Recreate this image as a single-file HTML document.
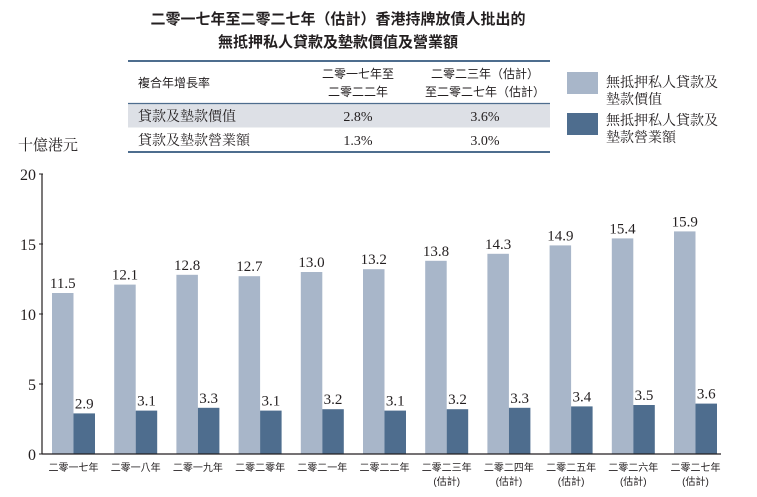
<!DOCTYPE html>
<html><head><meta charset="utf-8"><style>
body{margin:0;background:#fff;}
svg text{font-family:"Liberation Serif","Noto Serif CJK SC","Noto Sans CJK TC",serif;fill:#231f20;}
.s{font-family:"Liberation Sans","Noto Sans CJK TC",sans-serif !important;}
</style></head><body>
<svg id="c" width="757" height="492" viewBox="0 0 757 492">
<text class="s" x="338" y="24" font-size="15" font-weight="bold" text-anchor="middle">二零一七年至二零二七年（估計）香港持牌放債人批出的</text>
<text class="s" x="338" y="47" font-size="15" font-weight="bold" text-anchor="middle">無抵押私人貸款及墊款價值及營業額</text>
<g>
<rect x="128" y="104" width="422" height="24" fill="#dde0e6"/>
<line x1="128" y1="61" x2="550" y2="61" stroke="#4e6d8e" stroke-width="2"/>
<line x1="128" y1="103.5" x2="550" y2="103.5" stroke="#4e6d8e" stroke-width="1.2"/>
<line x1="128" y1="128" x2="550" y2="128" stroke="#fff" stroke-width="1"/>
<line x1="128" y1="152" x2="550" y2="152" stroke="#4e6d8e" stroke-width="2"/>
<text class="s" x="138" y="87" font-size="12">複合年增長率</text>
<text class="s" x="358" y="78" font-size="12" text-anchor="middle">二零一七年至</text>
<text class="s" x="358" y="96" font-size="12" text-anchor="middle">二零二二年</text>
<text class="s" x="485" y="78" font-size="12" text-anchor="middle">二零二三年（估計）</text>
<text class="s" x="485" y="96" font-size="12" text-anchor="middle">至二零二七年（估計）</text>
<text x="138" y="121" font-size="14">貸款及墊款價值</text>
<text x="358" y="121" font-size="14" text-anchor="middle">2.8%</text>
<text x="485" y="121" font-size="14" text-anchor="middle">3.6%</text>
<text x="138" y="145" font-size="14">貸款及墊款營業額</text>
<text x="358" y="145" font-size="14" text-anchor="middle">1.3%</text>
<text x="485" y="145" font-size="14" text-anchor="middle">3.0%</text>
</g>
<g>
<rect x="567" y="72" width="31" height="22" fill="#a8b6c9"/>
<text x="606" y="87" font-size="14">無抵押私人貸款及</text>
<text x="606" y="104" font-size="14">墊款價值</text>
<rect x="567" y="113" width="31" height="22" fill="#4e6d8e"/>
<text x="606" y="125" font-size="14">無抵押私人貸款及</text>
<text x="606" y="142" font-size="14">墊款營業額</text>
</g>
<text x="18" y="150" font-size="15">十億港元</text>
<g id="plot"></g>
</svg>
<script>
const categories=["二零一七年","二零一八年","二零一九年","二零二零年","二零二一年","二零二二年","二零二三年","二零二四年","二零二五年","二零二六年","二零二七年"];
const estimated=[false,false,false,false,false,false,true,true,true,true,true];
const loanValue=[11.5,12.1,12.8,12.7,13.0,13.2,13.8,14.3,14.9,15.4,15.9];
const loanTurnover=[2.9,3.1,3.3,3.1,3.2,3.1,3.2,3.3,3.4,3.5,3.6];
const yTicks=[0,5,10,15,20];
const NS="http://www.w3.org/2000/svg";
const g=document.getElementById('plot');
const y0=454,yTop=174,yMax=20;
function yS(v){return y0-(v/yMax)*(y0-yTop);}
function xS(i){return 52+i*62.2;}
const bw=21.5;
function mk(t,a){const e=document.createElementNS(NS,t);for(const k in a)e.setAttribute(k,a[k]);g.appendChild(e);return e;}
yTicks.forEach(v=>{
 const t=mk('text',{x:36,y:yS(v)+6,'font-size':16,'text-anchor':'end'});t.textContent=v;
 
 
 const l=mk('line',{x1:39,x2:43,y1:yS(v),y2:yS(v),stroke:'#231f20','stroke-width':1});
 
 
});
categories.forEach((c,i)=>{
 const x=xS(i);
 const r1=mk('rect',{x:x,y:yS(loanValue[i]),width:bw,height:y0-yS(loanValue[i]),fill:'#a8b6c9'});
 
 
 const r2=mk('rect',{x:x+bw,y:yS(loanTurnover[i]),width:bw,height:y0-yS(loanTurnover[i]),fill:'#4e6d8e'});
 
 
 const t1=mk('text',{x:x+bw/2,y:yS(loanValue[i])-5,'font-size':15,'text-anchor':'middle'});t1.textContent=loanValue[i].toFixed(1);
 
 
 const t2=mk('text',{x:x+bw*1.5,y:yS(loanTurnover[i])-5,'font-size':15,'text-anchor':'middle'});t2.textContent=loanTurnover[i].toFixed(1);
 
 
 const xl=mk('text',{x:x+bw,y:471,'font-size':10,'text-anchor':'middle','fill':'#555'});xl.setAttribute('class','s');xl.textContent=c;
 
 
 if(estimated[i]){const e=mk('text',{x:x+bw,y:485,'font-size':10,'text-anchor':'middle','fill':'#555'});e.setAttribute('class','s');e.textContent='(估計)';
 
 }
});
const ax=mk('line',{x1:42,x2:42,y1:174,y2:454,stroke:'#231f20','stroke-width':1.2});


const bx=mk('line',{x1:42,x2:721,y1:454,y2:454,stroke:'#231f20','stroke-width':1.2});


</script>
</body></html>
